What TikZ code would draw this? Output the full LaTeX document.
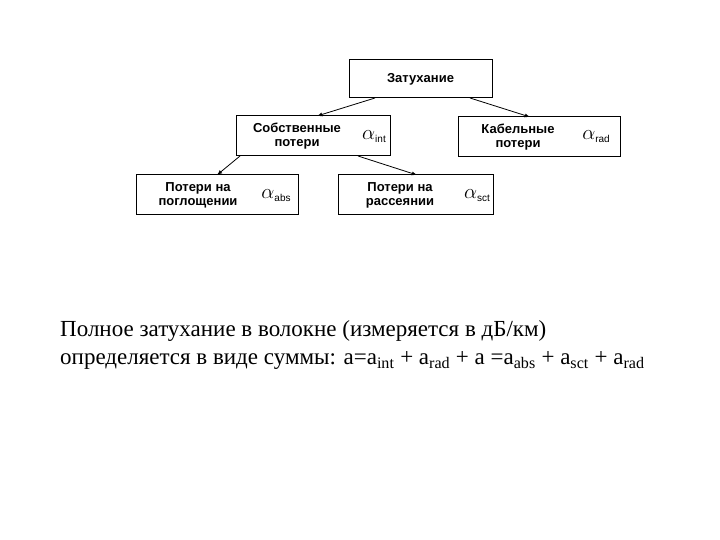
\documentclass[tikz,border=0pt]{standalone}
\usepackage{fontspec}
\setmainfont{Liberation Serif}
\newfontfamily\boxfont{Liberation Sans}
\newcommand{\alsub}[1]{$\alpha$\raisebox{-3pt}{\boxfont\fontsize{10}{10}\selectfont #1}}
\begin{document}
\begin{tikzpicture}[x=1pt,y=-1pt,
  bx/.style={draw,line width=1pt,inner sep=0pt},
  lbl/.style={font=\boxfont\bfseries\fontsize{13}{14}\selectfont,align=center},
  al/.style={font=\fontsize{20}{20}\selectfont,inner sep=0pt},
  arr/.style={-latex,line width=0.8pt}]
\useasboundingbox (0,0) rectangle (720,540);
\node[bx,minimum width=143pt,minimum height=38pt] (top) at (420.5,79) {};
\node[lbl] (topt) at (420.5,79) {Затухание};
\node[bx,minimum width=154pt,minimum height=40pt] (sob) at (313,136) {};
\node[lbl] (sobt) at (297,136) {Собственные\\потери};
\node[al] (soba) at (374,137) {\alsub{int}};
\node[bx,minimum width=162pt,minimum height=40pt] (kab) at (539,137) {};
\node[lbl] (kabt) at (518,137) {Кабельные\\потери};
\node[al] (kaba) at (596,137) {\alsub{rad}};
\node[bx,minimum width=162pt,minimum height=40pt] (abs) at (217,195) {};
\node[lbl] (abst) at (198,195) {Потери на\\поглощении};
\node[al] (absa) at (276,196) {\alsub{abs}};
\node[bx,minimum width=155pt,minimum height=40pt] (sct) at (415.5,195) {};
\node[lbl] (sctt) at (400,195) {Потери на\\рассеянии};
\node[al] (scta) at (477,196) {\alsub{sct}};
\coordinate (t1) at (375,98);
\coordinate (t2) at (470,98);
\coordinate (s1) at (240,156);
\coordinate (s2) at (358,156);
\draw[arr] (t1) -- (317,116);
\draw[arr] (t2) -- (530,117);
\draw[arr] (s1) -- (217,175);
\draw[arr] (s2) -- (417,175);
\node[anchor=west,font=\fontsize{23}{28}\selectfont,align=left,inner sep=0pt] (txt) at (60,345)
 {Полное затухание в волокне (измеряется в дБ/км)\\
 определяется в виде суммы: a=a\textsubscript{int} + a\textsubscript{rad} + a =a\textsubscript{abs} + a\textsubscript{sct} + a\textsubscript{rad}};
\end{tikzpicture}
\end{document}
